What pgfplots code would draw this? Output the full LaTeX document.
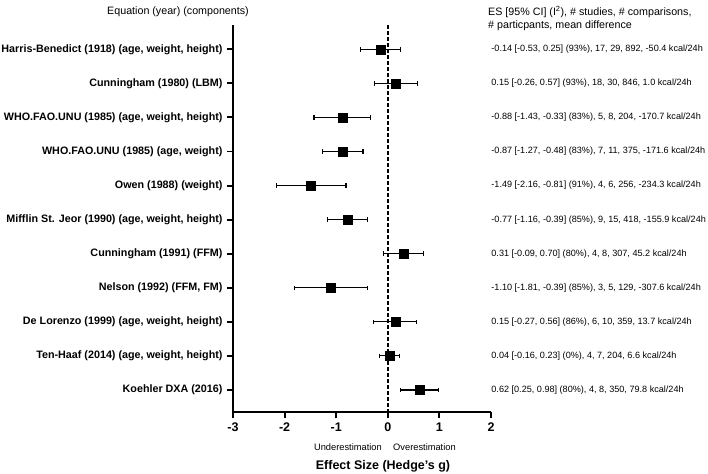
\documentclass[border=0pt]{standalone}
\usepackage{fontspec}
\setmainfont{Liberation Sans}
\usepackage{pgfplots}
\usepackage{pgfplotstable}
\pgfplotsset{compat=1.18}

\pgfplotstableread{
row es ep em
1 -0.14 0.39 0.39
2 0.15 0.42 0.41
3 -0.88 0.55 0.55
4 -0.87 0.39 0.40
5 -1.49 0.68 0.67
6 -0.77 0.38 0.39
7 0.31 0.39 0.40
8 -1.10 0.71 0.71
9 0.15 0.41 0.42
10 0.04 0.19 0.20
11 0.62 0.36 0.37
}\forest

\begin{document}
\begin{tikzpicture}
\path[use as bounding box] (0,0) rectangle (708bp,474bp);
\begin{axis}[
  at={(233bp,61.7bp)}, anchor=south west,
  width=258bp, height=387.3bp, scale only axis,
  clip=false,
  y dir=reverse,
  xmin=-3, xmax=2, ymin=0.287, ymax=11.654,
  axis lines=left,
  axis line style={-, line width=1.9bp},
  tick style={line width=1.9bp, black},
  major tick length=6bp,
  tick align=outside,
  xtick={-3,-2,-1,0,1,2},
  ytick={1,...,11},
  yticklabels={
    {Harris-Benedict (1918) (age, weight, height)},
    {Cunningham (1980) (LBM)},
    {WHO.FAO.UNU (1985) (age, weight, height)},
    {WHO.FAO.UNU (1985) (age, weight)},
    {Owen (1988) (weight)},
    {Mifflin St. Jeor (1990) (age, weight, height)},
    {Cunningham (1991) (FFM)},
    {Nelson (1992) (FFM, FM)},
    {De Lorenzo (1999) (age, weight, height)},
    {Ten-Haaf (2014) (age, weight, height)},
    {Koehler DXA (2016)}},
  yticklabel style={font=\bfseries\fontsize{10.75bp}{12bp}\selectfont, xshift=-1bp},
  xticklabel style={font=\bfseries\fontsize{12.5bp}{14bp}\selectfont, yshift=-1bp},
  /pgf/number format/assume math mode=true,
]
\addplot[black, line width=1.6bp, dash pattern=on 3.5bp off 2.5bp] coordinates {(0,0.287) (0,11.654)};
\addplot[only marks, mark=square*, mark size=4.5bp, black,
  error bars/.cd, x dir=both, x explicit,
  error mark=|,
  error bar style={line width=1.1bp, black},
  error mark options={line width=1.1bp, mark size=2.3bp, black, rotate=0}]
  table[x=es, y=row, x error plus=ep, x error minus=em] {\forest};
\begin{scope}[font=\fontsize{9.1bp}{11bp}\selectfont]
\node[anchor=west] at (axis cs:1.94,1) {-0.14 [-0.53, 0.25] (93\%), 17, 29, 892, -50.4 kcal/24h};
\node[anchor=west] at (axis cs:1.94,2) {0.15 [-0.26, 0.57] (93\%), 18, 30, 846, 1.0 kcal/24h};
\node[anchor=west] at (axis cs:1.94,3) {-0.88 [-1.43, -0.33] (83\%), 5, 8, 204, -170.7 kcal/24h};
\node[anchor=west] at (axis cs:1.94,4) {-0.87 [-1.27, -0.48] (83\%), 7, 11, 375, -171.6 kcal/24h};
\node[anchor=west] at (axis cs:1.94,5) {-1.49 [-2.16, -0.81] (91\%), 4, 6, 256, -234.3 kcal/24h};
\node[anchor=west] at (axis cs:1.94,6) {-0.77 [-1.16, -0.39] (85\%), 9, 15, 418, -155.9 kcal/24h};
\node[anchor=west] at (axis cs:1.94,7) {0.31 [-0.09, 0.70] (80\%), 4, 8, 307, 45.2 kcal/24h};
\node[anchor=west] at (axis cs:1.94,8) {-1.10 [-1.81, -0.39] (85\%), 3, 5, 129, -307.6 kcal/24h};
\node[anchor=west] at (axis cs:1.94,9) {0.15 [-0.27, 0.56] (86\%), 6, 10, 359, 13.7 kcal/24h};
\node[anchor=west] at (axis cs:1.94,10) {0.04 [-0.16, 0.23] (0\%), 4, 7, 204, 6.6 kcal/24h};
\node[anchor=west] at (axis cs:1.94,11) {0.62 [0.25, 0.98] (80\%), 4, 8, 350, 79.8 kcal/24h};
\end{scope}
\end{axis}
\node[font=\fontsize{10.7bp}{13bp}\selectfont] at (178bp,462bp) {Equation (year) (components)};
\node[anchor=west, align=left, inner sep=0pt, font=\fontsize{10.7bp}{13bp}\selectfont] at (488bp,455.5bp) {ES [95\% CI] (I\textsuperscript{2}), \# studies, \# comparisons,\\ \# particpants, mean difference};
\node[anchor=east, inner sep=0pt, font=\fontsize{9.3bp}{11bp}\selectfont] at (382bp,27bp) {Underestimation};
\node[anchor=west, inner sep=0pt, font=\fontsize{9.3bp}{11bp}\selectfont] at (393bp,27bp) {Overestimation};
\node[font=\bfseries\fontsize{12.5bp}{14bp}\selectfont] at (383bp,8bp) {Effect Size (Hedge's g)};
\end{tikzpicture}
\end{document}
